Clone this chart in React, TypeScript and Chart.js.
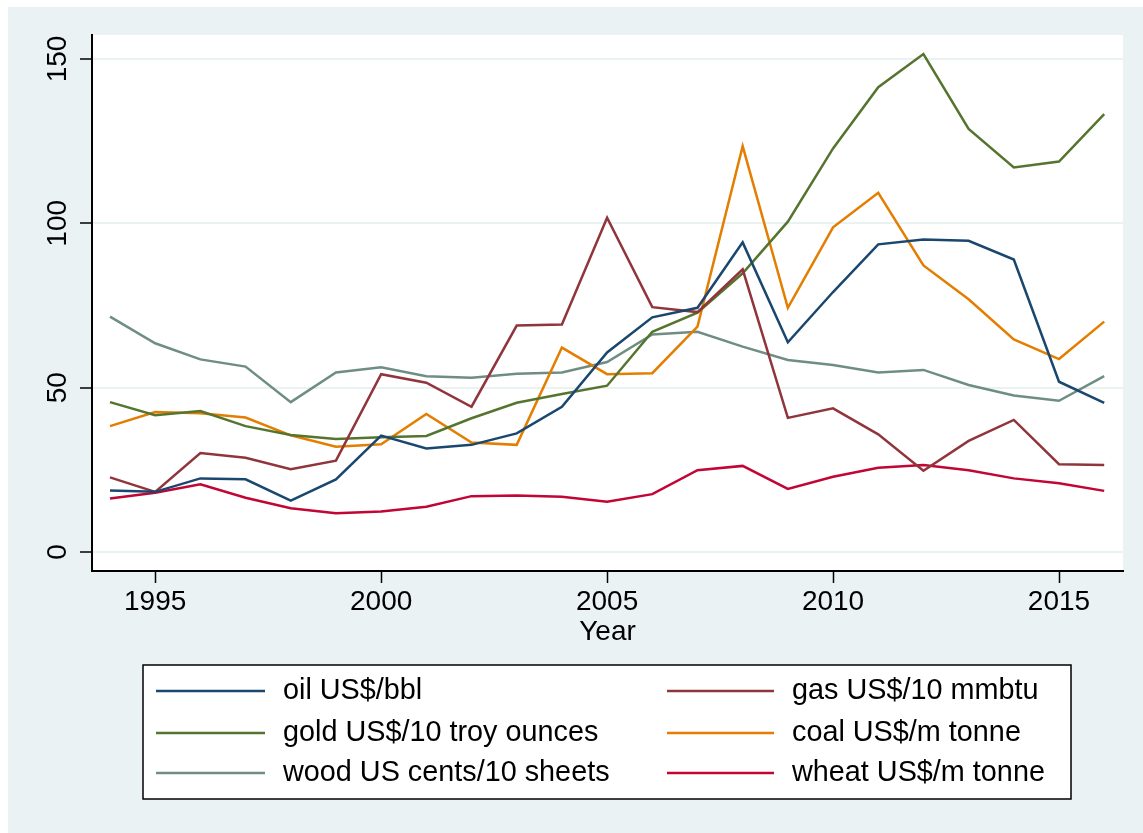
import React, { useEffect, useRef } from 'react';
import { Chart, registerables } from 'chart.js';

Chart.register(...registerables);

const years = [1994, 1995, 1996, 1997, 1998, 1999, 2000, 2001, 2002, 2003, 2004, 2005, 2006, 2007, 2008, 2009, 2010, 2011, 2012, 2013, 2014, 2015, 2016];
const oil = [18.7, 18.3, 22.4, 22.1, 15.6, 22.1, 35.4, 31.5, 32.6, 36.1, 44.2, 60.7, 71.4, 74.3, 94.2, 63.8, 79.1, 93.6, 95.1, 94.7, 89.0, 51.8, 45.4];
const gas = [22.7, 18.3, 30.1, 28.7, 25.2, 27.8, 54.1, 51.5, 44.2, 68.9, 69.2, 101.7, 74.5, 73.0, 86.0, 40.8, 43.7, 35.8, 24.7, 33.8, 40.2, 26.7, 26.5];
const gold = [45.6, 41.6, 42.9, 38.3, 35.6, 34.4, 34.9, 35.3, 40.7, 45.4, 48.1, 50.6, 67.0, 72.8, 84.8, 100.5, 122.8, 141.4, 151.5, 128.7, 117.0, 118.8, 133.2];
const coal = [38.3, 42.6, 42.2, 40.9, 35.5, 32.0, 32.8, 42.0, 33.3, 32.6, 62.2, 54.1, 54.4, 68.6, 123.5, 74.3, 98.8, 109.3, 87.2, 76.9, 64.7, 58.7, 70.1];
const wood = [71.6, 63.5, 58.6, 56.4, 45.6, 54.6, 56.2, 53.5, 53.0, 54.2, 54.6, 57.8, 66.2, 67.0, 62.5, 58.4, 56.9, 54.6, 55.4, 50.8, 47.6, 46.0, 53.5];
const wheat = [16.3, 18.0, 20.6, 16.5, 13.3, 11.8, 12.3, 13.8, 17.0, 17.2, 16.8, 15.3, 17.6, 24.9, 26.2, 19.2, 22.9, 25.6, 26.5, 24.9, 22.4, 20.9, 18.6];

const seriesLabels = ['oil US$/bbl', 'gas US$/10 mmbtu', 'gold US$/10 troy ounces', 'coal US$/m tonne', 'wood US cents/10 sheets', 'wheat US$/m tonne'];
const seriesColors = ['#1a476f', '#90353b', '#55752f', '#e37e00', '#6e8e84', '#c10534'];
const xTicks = [1995, 2000, 2005, 2010, 2015];
const yTicks = [0, 50, 100, 150];
const xTitle = 'Year';

const FONT = '"Liberation Sans", Arial, Helvetica, sans-serif';
const BG = '#eaf2f3';

const bgPlugin = {
  id: 'bgPlugin',
  beforeDraw(chart: any) {
    const { ctx, chartArea } = chart;
    ctx.save();
    ctx.fillStyle = BG;
    ctx.fillRect(0, 0, chart.width, chart.height);
    ctx.fillStyle = '#ffffff';
    ctx.fillRect(chartArea.left, chartArea.top, chartArea.right - chartArea.left, chartArea.bottom - chartArea.top);
    ctx.restore();
  },
};

const legendPlugin = {
  id: 'stataLegend',
  afterDraw(chart: any) {
    const { ctx } = chart;
    const box = { x: 135, y: 658, w: 928, h: 134 };
    ctx.save();
    ctx.fillStyle = '#ffffff';
    ctx.fillRect(box.x, box.y, box.w, box.h);
    ctx.strokeStyle = '#000000';
    ctx.lineWidth = 1.5;
    ctx.strokeRect(box.x, box.y, box.w, box.h);
    const rows = [684, 726, 766];
    const cols = [{ l0: 148, l1: 257, t: 275 }, { l0: 659, l1: 766, t: 784 }];
    ctx.font = `28.8px ${FONT}`;
    ctx.textBaseline = 'middle';
    ctx.textAlign = 'left';
    chart.data.datasets.forEach((ds: any, i: number) => {
      const r = rows[Math.floor(i / 2)];
      const c = cols[i % 2];
      ctx.strokeStyle = ds.borderColor;
      ctx.lineWidth = 2.5;
      ctx.beginPath();
      ctx.moveTo(c.l0, r);
      ctx.lineTo(c.l1, r);
      ctx.stroke();
      ctx.fillStyle = '#000000';
      ctx.fillText(ds.label, c.t, r);
    });
    ctx.restore();
  },
};

export default function App() {
  const ref = useRef<HTMLCanvasElement | null>(null);
  useEffect(() => {
    if (!ref.current) return;
    const allSeries = [oil, gas, gold, coal, wood, wheat];
    const chart = new Chart(ref.current, {
      type: 'line',
      data: {
        datasets: allSeries.map((s, i) => ({
          label: seriesLabels[i],
          data: years.map((y, j) => ({ x: y, y: s[j] })),
          borderColor: seriesColors[i],
          backgroundColor: seriesColors[i],
          borderWidth: 2.5,
          pointRadius: 0,
          tension: 0,
          fill: false,
        })),
      },
      options: {
        responsive: false,
        animation: false,
        layout: { padding: { left: 0, top: 28, right: 20, bottom: 184 } },
        plugins: { legend: { display: false }, tooltip: { enabled: false } },
        scales: {
          x: {
            type: 'linear',
            min: 1993.602,
            max: 2016.416,
            afterBuildTicks: (scale: any) => { scale.ticks = xTicks.map((v) => ({ value: v })); },
            afterFit: (scale: any) => { scale.height = 78; },
            border: { display: true, color: '#000000', width: 2 },
            grid: { drawOnChartArea: false, drawTicks: true, tickLength: 12, tickColor: '#000000', tickWidth: 1.5 },
            ticks: {
              color: '#000000',
              font: { family: FONT, size: 28 },
              padding: 2,
              maxRotation: 0,
              minRotation: 0,
              autoSkip: false,
              callback: (v: any) => String(v),
            },
            title: { display: true, text: xTitle, color: '#000000', font: { family: FONT, size: 28 }, padding: 0 },
          },
          y: {
            type: 'linear',
            min: -5.78,
            max: 157.3,
            afterBuildTicks: (scale: any) => { scale.ticks = yTicks.map((v) => ({ value: v })); },
            afterFit: (scale: any) => { scale.width = 84; },
            border: { display: true, color: '#000000', width: 2 },
            grid: { color: BG, lineWidth: 2, drawTicks: true, tickLength: 12, tickColor: '#000000', tickWidth: 1.5 },
            ticks: {
              color: '#000000',
              font: { family: FONT, size: 28 },
              padding: -1.4,
              minRotation: 90,
              maxRotation: 90,
              crossAlign: 'center',
              autoSkip: false,
              callback: (v: any) => String(v),
            },
          },
        },
      },
      plugins: [bgPlugin, legendPlugin],
    } as any);
    return () => chart.destroy();
  }, []);
  return (
    <div style={{ position: 'fixed', left: 8, top: 7, width: 1135, height: 826 }}>
      <canvas ref={ref} width={1135} height={826} style={{ display: 'block', width: 1135, height: 826 }} />
    </div>
  );
}
